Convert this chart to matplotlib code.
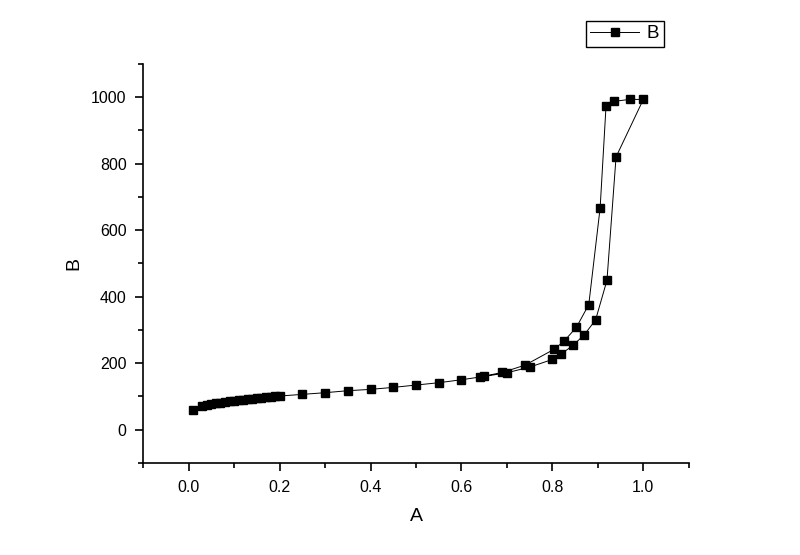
import matplotlib.pyplot as plt
from matplotlib.ticker import MultipleLocator

plt.rcParams['font.family'] = ['Liberation Sans', 'DejaVu Sans']

# adsorption branch (going up), then desorption branch (coming back)
a_ads = [0.01, 0.03, 0.04, 0.05, 0.06, 0.07, 0.08, 0.09, 0.10, 0.11, 0.12, 0.13,
         0.14, 0.15, 0.16, 0.17, 0.18, 0.19, 0.20, 0.25, 0.30, 0.35, 0.40, 0.45,
         0.50, 0.55, 0.60, 0.65, 0.70, 0.75, 0.80, 0.82, 0.845, 0.87, 0.895,
         0.92, 0.94, 1.00]
b_ads = [60, 70, 74, 77, 79, 81, 83, 85, 87, 88, 90, 91,
         92, 94, 95, 97, 98, 100, 101, 106, 111, 117, 121, 127,
         134, 141, 150, 160, 171, 188, 211, 228, 253, 285, 330,
         449, 820, 993]
a_des = [0.97, 0.935, 0.918, 0.905, 0.88, 0.853, 0.825, 0.803, 0.74, 0.69, 0.64]
b_des = [993, 987, 974, 667, 376, 308, 265, 241, 194, 172, 158]

a = a_ads + a_des
b = b_ads + b_des

fig = plt.figure(figsize=(8, 5.55), dpi=100)
ax = fig.add_axes([0.179, 0.166, 0.682, 0.719])

ax.plot(a, b, color='black', lw=0.7, marker='s', ms=6, mfc='black', mec='black',
        label='B')

ax.set_xlim(-0.1, 1.1)
ax.set_ylim(-100, 1100)
ax.xaxis.set_major_locator(MultipleLocator(0.2))
ax.xaxis.set_minor_locator(MultipleLocator(0.1))
ax.yaxis.set_major_locator(MultipleLocator(200))
ax.yaxis.set_minor_locator(MultipleLocator(100))
ax.set_xticks([0.0, 0.2, 0.4, 0.6, 0.8, 1.0])
ax.set_xticklabels(['0.0', '0.2', '0.4', '0.6', '0.8', '1.0'])
ax.set_yticks([0, 200, 400, 600, 800, 1000])

for s in ['top', 'right']:
    ax.spines[s].set_visible(False)
for s in ['left', 'bottom']:
    ax.spines[s].set_linewidth(1.2)
ax.tick_params(which='major', direction='out', length=6, width=1.2, labelsize=11.5, pad=6)
ax.tick_params(which='minor', direction='out', length=3.5, width=1.2)

ax.set_xlabel('A', fontsize=14, labelpad=10)
ax.set_ylabel('B', fontsize=14, labelpad=6)

fig.legend(loc='upper left', bbox_to_anchor=(0.732, 0.963), fontsize=13.5,
           fancybox=False, edgecolor='black', framealpha=1, borderpad=0.25,
           handlelength=2.6, handletextpad=0.4, borderaxespad=0)

fig.savefig('out.png')
